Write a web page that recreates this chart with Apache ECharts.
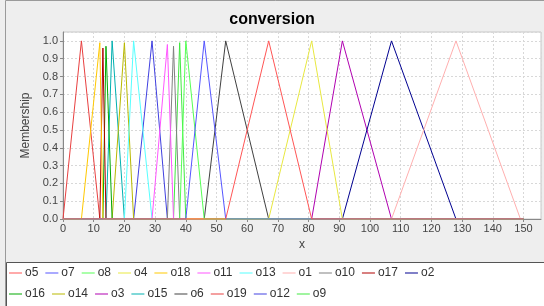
<!DOCTYPE html>
<html><head><meta charset="utf-8">
<script src="https://cdn.jsdelivr.net/npm/echarts@6/dist/echarts.min.js"></script>
<style>html,body{margin:0;padding:0;background:#eeeeee}#c{width:544px;height:306px}</style>
</head><body><div id="c"></div>
<script>
// Fuzzy sets of variable "conversion" (triangular membership functions)
const setNames  = ['o1','o2','o3','o4','o5','o6','o7','o8','o9','o10','o11','o12','o13','o14','o15','o16','o17','o18','o19'];
const leftFoot  = [107, 91, 81, 67, 53, 46, 40, 38, 36, 34, 29, 23, 20, 16, 14, 13, 12,  6,  0];
const peakX     = [128,107, 91, 81, 67, 53, 46, 40, 38, 36, 34, 29, 23, 20, 16, 14, 13, 12,  6];
const rightFoot = [149,128,107, 91, 81, 67, 53, 46, 40, 38, 36, 34, 29, 23, 20, 16, 14, 13, 12];
const peakY     = [1.0,1.0,1.0,1.0,1.0,1.0,1.0,1.0,0.99,0.97,0.98,1.0,1.0,0.99,1.0,0.97,0.96,0.99,1.0];
const universe  = [0, 150];
// legend order (two rows) and palette
const legendRow1 = ['o5','o7','o8','o4','o18','o11','o13','o1','o10','o17','o2'];
const legendRow2 = ['o16','o14','o3','o15','o6','o19','o12','o9'];
const palette = ['#ff5555','#5555ff','#55ff55','#e8e840','#ffc800','#ff55ff','#55ffff','#ffafaf','#808080','#b00000','#000090','#00a800','#b8b800','#b000b0','#00b0b0','#404040','#e84040','#4040e0','#40e840'];
const xTicks = [0,10,20,30,40,50,60,70,80,90,100,110,120,130,140,150];
const yTicks = [0.0,0.1,0.2,0.3,0.4,0.5,0.6,0.7,0.8,0.9,1.0];

const legendOrder = legendRow1.concat(legendRow2);
const colorOf = {};
legendOrder.forEach((n,i)=>{ colorOf[n] = palette[i]; });

// series drawn in reverse legend order so the first legend entry is on top
const series = legendOrder.slice().reverse().map(name => {
  const k = setNames.indexOf(name);
  const pts = [];
  if (leftFoot[k] > universe[0]) pts.push([universe[0], 0]);
  pts.push([leftFoot[k], 0], [peakX[k], peakY[k]], [rightFoot[k], 0]);
  if (rightFoot[k] < universe[1]) pts.push([universe[1], 0]);
  return {
    name, type:'line', data: pts, symbol:'none', animation:false,
    color: colorOf[name],
    lineStyle:{width:1, color: colorOf[name]}
  };
});

const chart = echarts.init(document.getElementById('c'), null, {renderer:'canvas'});
const legendCommon = {
  left: 9, itemWidth: 13, itemHeight: 1, itemGap: 7, icon: 'rect',
  textStyle: {fontFamily:'Liberation Sans, Arial, sans-serif', fontSize: 12, color:'#333', padding:[0,0,0,-2]},
  padding: 0
};
chart.setOption({
  backgroundColor: '#eeeeee',
  animation: false,
  title: {
    text: 'conversion', left: 'center', top: 7,
    textStyle: {fontFamily:'Liberation Sans, Arial, sans-serif', fontSize: 16, fontWeight:'bold', color:'#000'}
  },
  graphic: [
    {type:'rect', z:0, shape:{x:5.5, y:0.5, width:545, height:310}, style:{fill:'none', stroke:'#9a9a9a', lineWidth:1}},
    {type:'rect', z:0, shape:{x:6.5, y:262.5, width:545, height:50}, style:{fill:'#ffffff', stroke:'#555555', lineWidth:1}}
  ],
  legend: [
    Object.assign({}, legendCommon, {top: 267, data: legendRow1}),
    Object.assign({}, legendCommon, {top: 288, data: legendRow2})
  ],
  grid: {left:63, right:3, top:32, bottom:87, show:true, backgroundColor:'#ffffff', borderColor:'#c8c8c8', borderWidth:1},
  xAxis: {
    type:'value', min:0, max:155.7, interval:10,
    name:'x', nameLocation:'middle', nameGap:20,
    nameTextStyle:{fontFamily:'Liberation Sans, Arial, sans-serif', fontSize:12, color:'#444'},
    axisLine:{show:true, lineStyle:{color:'#888'}},
    axisTick:{show:true, length:3, lineStyle:{color:'#888'}},
    axisLabel:{showMaxLabel:false, fontSize:11, color:'#444', margin:4, fontFamily:'Liberation Sans, Arial, sans-serif',
      formatter: v => xTicks.includes(v) ? String(v) : ''},
    splitLine:{show:true, lineStyle:{color:'#d8d8d8', type:[2,2]}}
  },
  yAxis: {
    type:'value', min:0, max:1.05, interval:0.1,
    name:'Membership', nameLocation:'middle', nameGap:27,
    nameTextStyle:{fontFamily:'Liberation Sans, Arial, sans-serif', fontSize:12, color:'#444'},
    axisLine:{show:true, lineStyle:{color:'#888'}},
    axisTick:{show:true, length:3, lineStyle:{color:'#888'}},
    axisLabel:{showMaxLabel:false, fontSize:11, color:'#444', margin:5, fontFamily:'Liberation Sans, Arial, sans-serif',
      formatter: v => { const t = yTicks.find(y => Math.abs(y - v) < 1e-6); return t === undefined ? '' : t.toFixed(1); }},
    splitLine:{show:true, lineStyle:{color:'#d8d8d8', type:[2,2]}}
  },
  series
});
</script></body></html>
